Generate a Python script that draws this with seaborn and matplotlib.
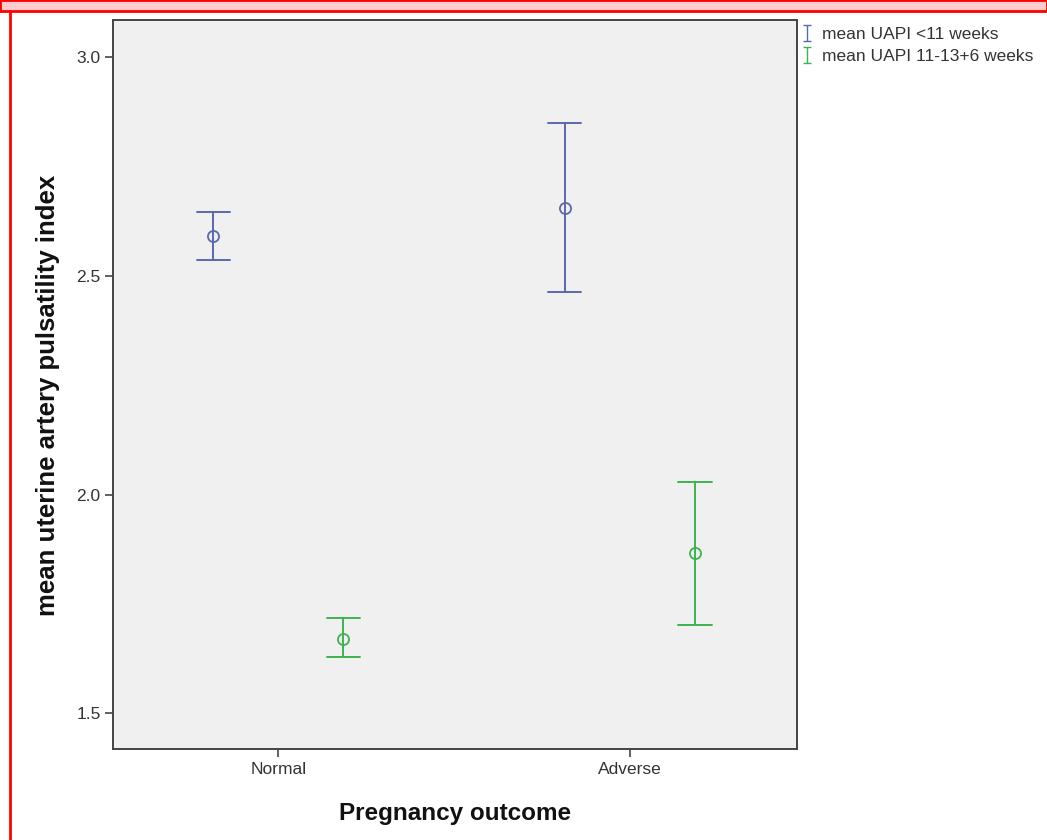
import matplotlib
matplotlib.use("Agg")
import matplotlib.pyplot as plt
from matplotlib.lines import Line2D
from matplotlib.patches import Rectangle
from matplotlib.path import Path
import seaborn as sns
import pandas as pd

    #----------------------------------------------------
    # DATA
    #----------------------------------------------------

outcomes = ["Normal", "Adverse"]
series = ["mean UAPI <11 weeks", "mean UAPI 11-13+6 weeks"]

# one value per outcome, same order as outcomes
early_mean = [2.591, 2.655]
early_low = [2.536, 2.463]
early_high = [2.646, 2.849]

late_mean = [1.671, 1.866]
late_low = [1.628, 1.703]
late_high = [1.719, 2.028]

colors = ["#5a68ad", "#3cb44e"]

    #----------------------------------------------------
    # long table: low / mean / high per group
    # median gives the mean, min-max gives the interval
    #----------------------------------------------------

rows = []
for name, means, lows, highs in [(series[0], early_mean, early_low, early_high),
                                 (series[1], late_mean, late_low, late_high)]:
    for i, outcome in enumerate(outcomes):
        for v in (lows[i], means[i], highs[i]):
            rows.append({"outcome": outcome, "series": name, "value": v})
df = pd.DataFrame(rows)

sns.set_style("white")
plt.rcParams["font.family"] = ["Liberation Sans", "DejaVu Sans"]

fig = plt.figure(figsize=(10.47, 8.4), dpi=100)
ax = fig.add_axes([0.108, 0.108, 0.653, 0.868])
ax.set_facecolor("#f0f0f0")

sns.pointplot(data=df, x="outcome", y="value", hue="series",
              order=outcomes, hue_order=series, palette=colors,
              estimator="median", errorbar=lambda v: (v.min(), v.max()),
              dodge=0.37, capsize=0.095, linestyle="none", marker="o",
              markersize=8, markeredgewidth=1.3, markerfacecolor="none",
              err_kws={"linewidth": 1.4}, legend=False, ax=ax)

ax.set_xlim(-0.47, 1.475)
ax.set_ylim(1.418, 3.084)
ax.set_yticks([1.5, 2.0, 2.5, 3.0])
ax.set_yticklabels(["1.5", "2.0", "2.5", "3.0"])

for s in ax.spines.values():
    s.set_visible(True)
    s.set_color("#444444")
    s.set_linewidth(1.4)

ax.tick_params(axis="both", direction="out", length=6, width=1.2,
               color="#444444", labelsize=12.5, labelcolor="#333333", pad=3,
               left=True, bottom=True)

ax.set_xlabel("Pregnancy outcome", fontsize=17.5, fontweight="bold",
              color="#111111", labelpad=18)
ax.set_ylabel("mean uterine artery pulsatility index", fontsize=18.5,
              fontweight="bold", color="#111111")
ax.yaxis.set_label_coords(-0.077, 0.486)

# legend with thin I-beam handles
ibeam = Path([(-0.5, -1), (0.5, -1), (0, -1), (0, 1), (-0.5, 1), (0.5, 1)],
             [Path.MOVETO, Path.LINETO, Path.MOVETO, Path.LINETO,
              Path.MOVETO, Path.LINETO])
handles = [Line2D([], [], linestyle="none", marker=ibeam, markersize=11,
                  markeredgewidth=1.0, color=c) for c in colors]
fig.legend(handles, series, loc="upper left",
           bbox_to_anchor=(0.754, 0.982), frameon=False, fontsize=12.5,
           labelcolor="#333333", handlelength=0.6, handletextpad=0.55,
           labelspacing=0.35, borderpad=0.2)

# red frame of the screenshot
fig.patches.append(Rectangle((0.0, 1 - 11 / 840), 1.0, 11 / 840,
                             transform=fig.transFigure, facecolor="#ffcccc",
                             edgecolor="#ff0000", linewidth=2))
fig.lines.append(Line2D([10 / 1047, 10 / 1047], [0, 1 - 11 / 840],
                        transform=fig.transFigure, color="#ff0000",
                        linewidth=2))

fig.savefig("out.png", dpi=100)
